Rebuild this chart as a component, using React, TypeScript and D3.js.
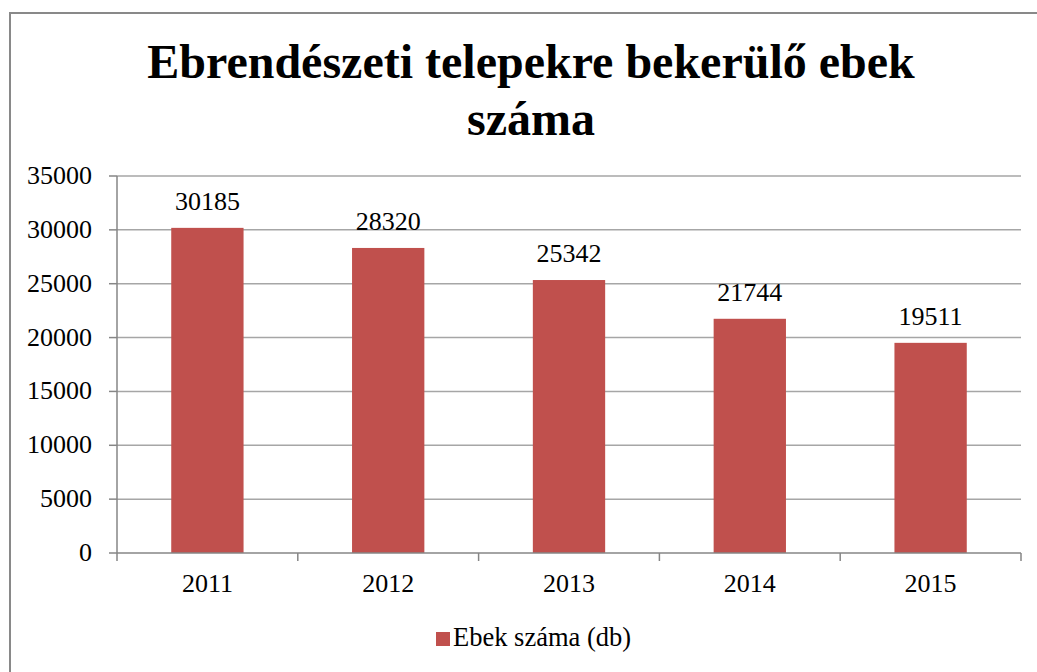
import React from "react";
import * as d3 from "d3";

const years = ["2011", "2012", "2013", "2014", "2015"];
const values = [30185, 28320, 25342, 21744, 19511];
const yTicks = [0, 5000, 10000, 15000, 20000, 25000, 30000, 35000];
const titleLines = ["Ebrendészeti telepekre bekerülő ebek", "száma"];
const seriesName = "Ebek száma (db)";

const font = '"Liberation Serif", "Times New Roman", Times, "DejaVu Serif", serif';

export default function App() {
  const W = 1037, H = 672;
  const left = 117, right = 1021, top = 176, bottom = 553;
  const x = d3.scaleBand<string>().domain(years).range([left, right]).paddingInner(0).paddingOuter(0);
  const y = d3.scaleLinear().domain([0, 35000]).range([bottom, top]);
  const bw = x.bandwidth() * 0.4;
  const bounds = [...years.map((d) => x(d)!), right];
  const ts = { fontFamily: font };
  return (
    <div style={{ position: "fixed", left: 0, top: 0, width: W, height: H, background: "#fff" }}>
      <svg width={W} height={H} style={{ display: "block", fontFamily: font }}>
        <rect x={0} y={0} width={W} height={H} fill="#fff" />
        <rect x={10} y={13} width={1200} height={800} fill="#fff" stroke="#898989" strokeWidth={2} />
        {titleLines.map((t, i) => (
          <text key={i} x={531} y={78 + i * 57} textAnchor="middle" fontSize={48} fontWeight="bold" fill="#000" style={ts}>
            {t}
          </text>
        ))}
        {yTicks.map((t) => (
          <g key={t}>
            {t > 0 && <line x1={left} x2={right} y1={y(t)} y2={y(t)} stroke="#a6a6a6" strokeWidth={1.5} />}
            <line x1={109} x2={left} y1={y(t)} y2={y(t)} stroke="#868686" strokeWidth={1.5} />
            <text x={92} y={y(t) + 8} textAnchor="end" fontSize={26} fill="#000" style={ts}>
              {t}
            </text>
          </g>
        ))}
        <line x1={left} x2={left} y1={top} y2={bottom} stroke="#868686" strokeWidth={1.5} />
        {years.map((d, i) => {
          const cx = x(d)! + x.bandwidth() / 2;
          return (
            <g key={d}>
              <rect x={cx - bw / 2} y={y(values[i])} width={bw} height={bottom - y(values[i])} fill="#C0504D" />
              <text x={cx} y={y(values[i]) - 18} textAnchor="middle" fontSize={26} fill="#000" style={ts}>
                {values[i]}
              </text>
              <text x={cx} y={592} textAnchor="middle" fontSize={26} fill="#000" style={ts}>
                {d}
              </text>
            </g>
          );
        })}
        <line x1={left} x2={right} y1={bottom} y2={bottom} stroke="#868686" strokeWidth={1.5} />
        {bounds.map((b, i) => (
          <line key={i} x1={b} x2={b} y1={bottom} y2={bottom + 8} stroke="#868686" strokeWidth={1.5} />
        ))}
        <rect x={436} y={632} width={14} height={14} fill="#C0504D" />
        <text x={453} y={646} fontSize={26.5} fill="#000" style={ts}>
          {seriesName}
        </text>
      </svg>
    </div>
  );
}
